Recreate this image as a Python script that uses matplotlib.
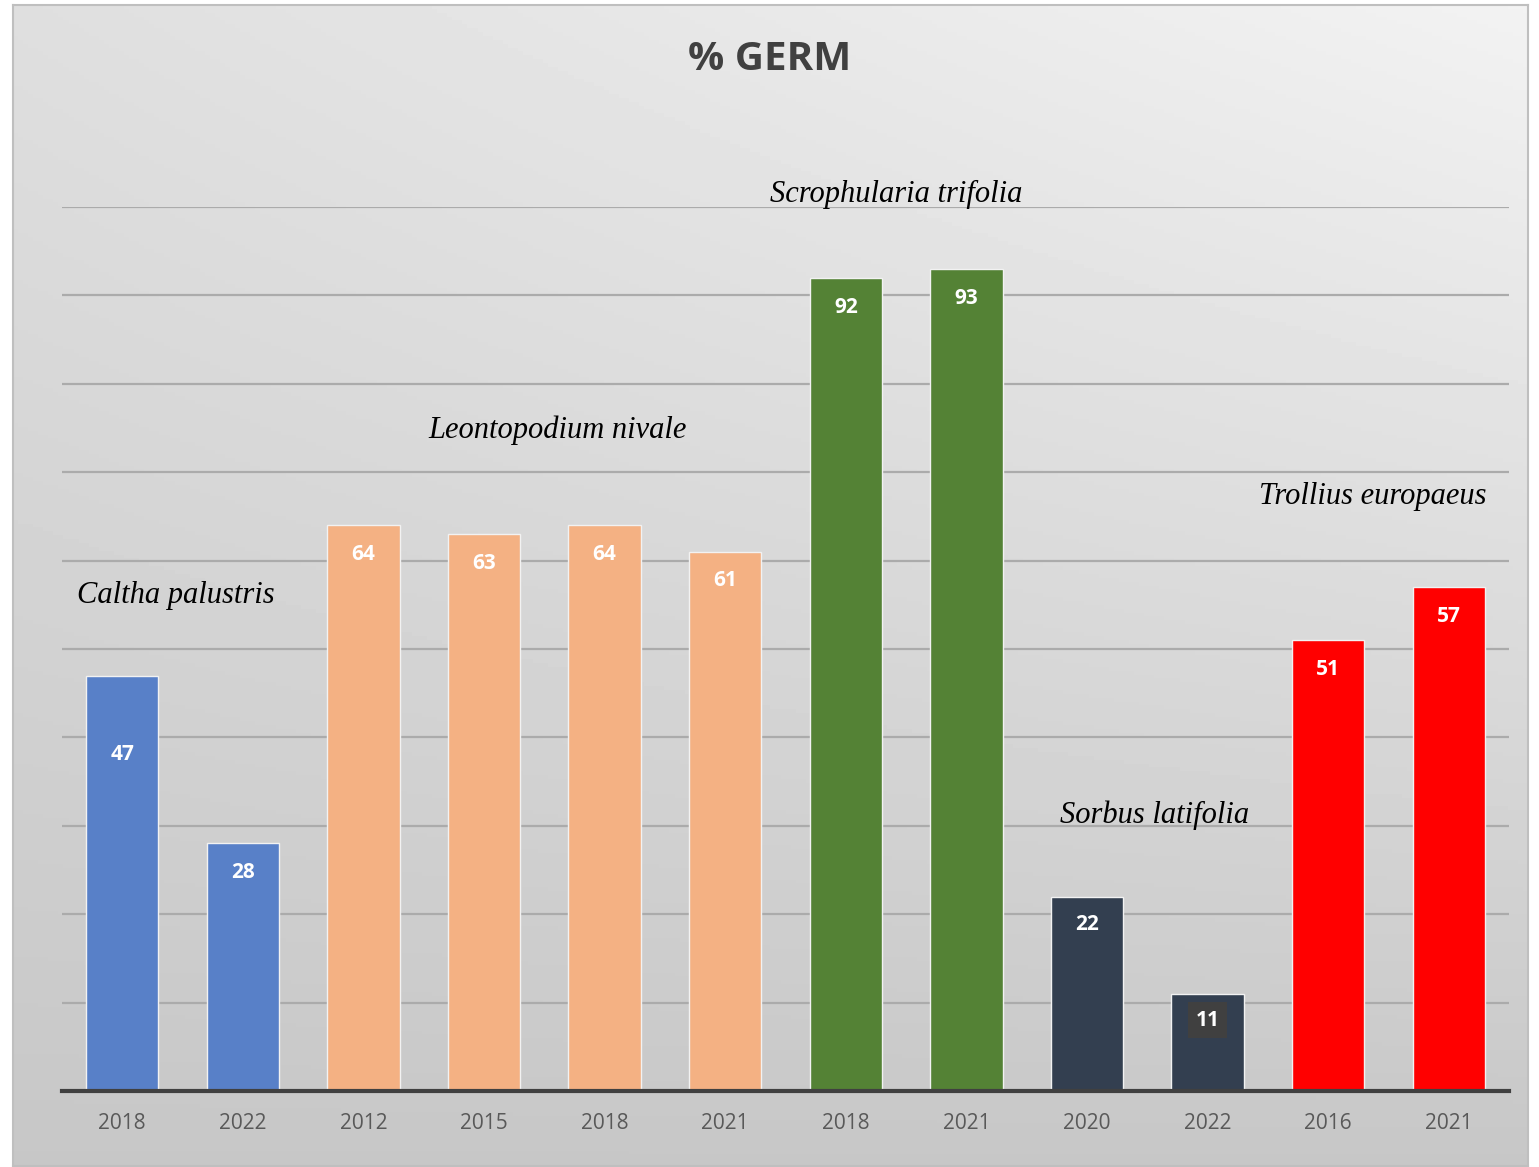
import matplotlib
matplotlib.use('Agg')
import matplotlib.pyplot as plt
import numpy as np

# data
years = ['2018', '2022', '2012', '2015', '2018', '2021', '2018', '2021', '2020', '2022', '2016', '2021']
germ = [47, 28, 64, 63, 64, 61, 92, 93, 22, 11, 51, 57]
group = [0, 0, 1, 1, 1, 1, 2, 2, 3, 3, 4, 4]
species = ['Caltha palustris', 'Leontopodium nivale', 'Scrophularia trifolia',
           'Sorbus latifolia', 'Trollius europaeus']
species_colors = ['#5880C8', '#F4B183', '#548235', '#333F50', '#FF0000']
# where each species name sits (x in bar units, y in %)
species_pos = [(0.44, 56), (3.61, 74.8), (6.42, 101.4), (8.56, 31.2), (10.37, 67.2)]
# how far below the bar top each value label sits
label_drop = [8.9, 3.3, 3.3, 3.3, 3.3, 3.3, 3.4, 3.4, 3.2, 3.0, 3.3, 3.3]

fig = plt.figure(figsize=(15.39, 11.67), dpi=100)

# gradient background of the chart frame
bg = fig.add_axes([13/1539, 1 - 1166/1167, 1515/1539, 1161/1167])
xx, yy = np.meshgrid(np.linspace(0, 1, 300), np.linspace(0, 1, 300))
shade = 0.78 + 0.17 * yy * (0.55 + 0.45 * xx)
bg.imshow(shade, cmap='gray', vmin=0, vmax=1, origin='lower', aspect='auto',
          extent=[0, 1, 0, 1])
bg.set_xticks([])
bg.set_yticks([])
for s in bg.spines.values():
    s.set_color('#BFBFBF')
    s.set_linewidth(1.5)

ax = fig.add_axes([62/1539, 76/1167, 1447/1539, 884/1167])
ax.patch.set_alpha(0)
x = np.arange(len(germ))
cols = [species_colors[g] for g in group]
ax.bar(x, germ, width=0.6, color=cols, edgecolor='#F2F2F2', linewidth=1.0, zorder=3)

ax.set_xlim(-0.5, len(germ) - 0.5)
ax.set_ylim(0, 100)
ax.set_yticks(np.arange(10, 101, 10))
ax.yaxis.grid(True, color='#ABABAB', linewidth=1.6, zorder=0)
ax.tick_params(axis='y', left=False, labelleft=False)
ax.set_xticks(x)
ax.set_xticklabels(years, fontsize=15, color='#595959', family='Open Sans')
ax.tick_params(axis='x', length=0, pad=16)
for s in ['left', 'right', 'top']:
    ax.spines[s].set_visible(False)
ax.spines['bottom'].set_color('#404040')
ax.spines['bottom'].set_linewidth(3)
ax.spines['bottom'].set_zorder(4)

for i, v in enumerate(germ):
    box = None
    if v == 11:
        box = dict(boxstyle='square,pad=0.35', fc='#404040', ec='none')
    ax.text(i, v - label_drop[i], str(v), ha='center', va='center', color='white',
            fontsize=15, fontweight='bold', family='Open Sans', bbox=box, zorder=5)

for name, (px, py) in zip(species, species_pos):
    ax.text(px, py, name, ha='center', va='center', fontsize=22, style='italic',
            family='Liberation Serif', color='black', clip_on=False, zorder=5)

fig.text(770/1539, 1 - 59/1167, '% GERM', ha='center', va='center', fontsize=29,
         fontweight='bold', family='Open Sans', color='#404040')

fig.savefig('out.png', dpi=100, facecolor='white')
